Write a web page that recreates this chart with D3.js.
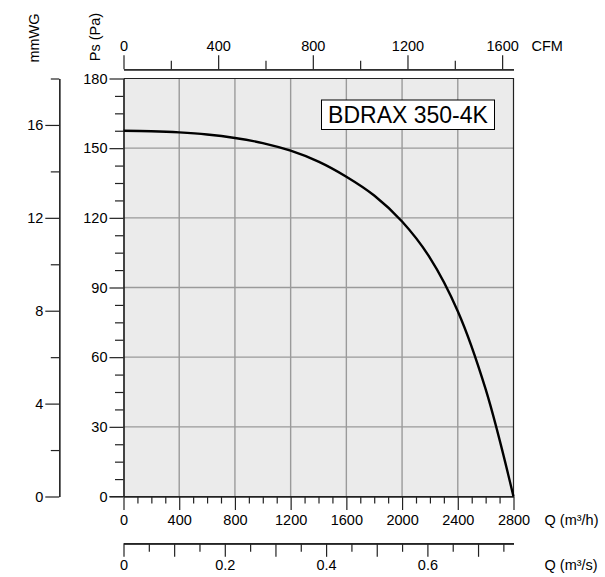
<!DOCTYPE html>
<html>
<head>
<meta charset="utf-8">
<script src="https://cdn.jsdelivr.net/npm/d3@7"></script>
<style>
  html, body { margin: 0; padding: 0; background: #fff; }
  svg { display: block; }
  text { font-family: "Liberation Sans", Arial, sans-serif; fill: #000; }
</style>
</head>
<body>
<svg id="chart" width="605" height="577"></svg>
<script>
// ---- data ----
const flowM3h = [0, 200, 400, 600, 800, 1000, 1200, 1400, 1600, 1800, 2000, 2200, 2400, 2600, 2800];
const pressurePa = [157.5, 157.3, 156.8, 155.9, 154.4, 152.2, 148.9, 144.2, 137.7, 129.6, 118.4, 102.8, 79.8, 46.2, 0];
const paMajorTicks = [0, 30, 60, 90, 120, 150, 180];
const mmwgMajorTicks = [0, 4, 8, 12, 16];
const mmwgMinorTicks = [2, 6, 10, 14, 18];
const m3hMajorTicks = [0, 400, 800, 1200, 1600, 2000, 2400, 2800];
const cfmMajorTicks = [0, 400, 800, 1200, 1600];
const cfmMinorTicks = [200, 600, 1000, 1400];
const m3sLabelTicks = [0, 0.2, 0.4, 0.6];
const m3sLongTicks = [0.1, 0.3, 0.5, 0.7];
const m3sShortTicks = [0.05, 0.15, 0.25, 0.35, 0.45, 0.55, 0.65, 0.75];
const modelName = "BDRAX 350-4K";

// ---- layout ----
const L = 123.5, R = 513.5, T = 78.5, B = 496.5;
const svg = d3.select("#chart");
const fs = "14.5px";
const intFmt = d3.format("d");

const x = d3.scaleLinear().domain([0, 2800]).range([L, R]);
const y = d3.scaleLinear().domain([0, 180]).range([B, T]);
const yMM = d3.scaleLinear().domain([0, 18]).range([B, T]);
const xCFM = d3.scaleLinear().domain([0, 2800 / 1.699]).range([L, R]);
const xM3s = d3.scaleLinear().domain([0, 0.77]).range([L, R]);

// plot background
svg.append("rect").attr("x", L).attr("y", T).attr("width", R - L).attr("height", B - T)
  .attr("fill", "#ebebeb");

// gridlines
const grid = svg.append("g").attr("stroke", "#9a9a9a").attr("stroke-width", 1.4);
grid.selectAll(".vg").data(m3hMajorTicks.filter(d => d > 0 && d < 2800)).enter().append("line")
  .attr("x1", d => x(d)).attr("x2", d => x(d)).attr("y1", T).attr("y2", B);
grid.selectAll(".hg").data(paMajorTicks.filter(d => d > 0 && d < 180)).enter().append("line")
  .attr("x1", L).attr("x2", R).attr("y1", d => y(d)).attr("y2", d => y(d));

// frame top + right
svg.append("path").attr("d", `M${L},${T}H${R}V${B}`).attr("fill", "none")
  .attr("stroke", "#222").attr("stroke-width", 1.2);

function styleAxis(g) {
  g.selectAll("path, line").attr("stroke", "#222").attr("stroke-width", 1.2);
  g.selectAll("text").style("font-size", fs).attr("fill", "#000");
}

// Pa axis
const paMinor = d3.range(0, 181, 7.5).filter(d => d % 30 !== 0);
svg.append("g").attr("transform", `translate(${L},0)`)
  .call(d3.axisLeft(y).tickValues(paMinor).tickSize(8.5).tickSizeOuter(0).tickFormat(""))
  .call(styleAxis);
svg.append("g").attr("transform", `translate(${L},0)`)
  .call(d3.axisLeft(y).tickValues(paMajorTicks).tickSize(14).tickSizeOuter(0).tickPadding(2).tickFormat(intFmt))
  .call(styleAxis);

// mmWG axis
const mmX = 59.3;
svg.append("g").attr("transform", `translate(${mmX},0)`)
  .call(d3.axisLeft(yMM).tickValues(mmwgMinorTicks).tickSize(8.5).tickSizeOuter(0).tickFormat(""))
  .call(styleAxis);
svg.append("g").attr("transform", `translate(${mmX},0)`)
  .call(d3.axisLeft(yMM).tickValues(mmwgMajorTicks).tickSize(14).tickSizeOuter(0).tickPadding(2).tickFormat(intFmt))
  .call(styleAxis);

// Q m3/h axis (bottom)
const m3hMinor = d3.range(0, 2801, 100).filter(d => d % 400 !== 0);
svg.append("g").attr("transform", `translate(0,${B})`)
  .call(d3.axisBottom(x).tickValues(m3hMinor).tickSize(7).tickSizeOuter(0).tickFormat(""))
  .call(styleAxis);
svg.append("g").attr("transform", `translate(0,${B})`)
  .call(d3.axisBottom(x).tickValues(m3hMajorTicks).tickSize(13.5).tickSizeOuter(0).tickPadding(4.5).tickFormat(intFmt))
  .call(styleAxis);
// extend bottom line left to the Pa 0 tick
svg.append("line").attr("x1", L - 14).attr("x2", R).attr("y1", B).attr("y2", B)
  .attr("stroke", "#222").attr("stroke-width", 1.2);

// CFM axis (top)
const cfmY = 69.3;
svg.append("g").attr("transform", `translate(0,${cfmY})`)
  .call(d3.axisTop(xCFM).tickValues(cfmMinorTicks).tickSize(8.5).tickSizeOuter(0).tickFormat(""))
  .call(styleAxis);
svg.append("g").attr("transform", `translate(0,${cfmY})`)
  .call(d3.axisTop(xCFM).tickValues(cfmMajorTicks).tickSize(14).tickSizeOuter(0).tickPadding(4).tickFormat(intFmt))
  .call(styleAxis);

// m3/s axis
const m3sY = 543.3;
svg.append("g").attr("transform", `translate(0,${m3sY})`)
  .call(d3.axisBottom(xM3s).tickValues(m3sShortTicks).tickSize(8.5).tickSizeOuter(0).tickFormat(""))
  .call(styleAxis);
svg.append("g").attr("transform", `translate(0,${m3sY})`)
  .call(d3.axisBottom(xM3s).tickValues(m3sLongTicks).tickSize(13.5).tickSizeOuter(0).tickFormat(""))
  .call(styleAxis);
svg.append("g").attr("transform", `translate(0,${m3sY})`)
  .call(d3.axisBottom(xM3s).tickValues(m3sLabelTicks).tickSize(13.5).tickSizeOuter(0).tickPadding(3).tickFormat(d => String(d)))
  .call(styleAxis);

// curve
const pts = flowM3h.map((q, i) => [q, pressurePa[i]]);
svg.append("path").datum(pts)
  .attr("fill", "none").attr("stroke", "#000").attr("stroke-width", 2.4)
  .attr("d", d3.line().x(d => x(d[0])).y(d => y(d[1])).curve(d3.curveCatmullRom.alpha(0.5)));

// title box
svg.append("rect").attr("x", 321.5).attr("y", 100).attr("width", 173).attr("height", 29.5)
  .attr("fill", "#fff").attr("stroke", "#000").attr("stroke-width", 1);
svg.append("text").attr("x", 408).attr("y", 122.5).attr("text-anchor", "middle")
  .style("font-size", "23px").text(modelName);

// axis titles
svg.append("text").attr("x", 531.5).attr("y", 51).style("font-size", fs).text("CFM");
svg.append("text").attr("x", 544.5).attr("y", 525).style("font-size", fs).text("Q (m³/h)");
svg.append("text").attr("x", 544.5).attr("y", 569.5).style("font-size", fs).text("Q (m³/s)");
svg.append("text").attr("transform", "translate(38.5,38) rotate(-90)").attr("text-anchor", "middle")
  .style("font-size", fs).text("mmWG");
svg.append("text").attr("transform", "translate(100,37) rotate(-90)").attr("text-anchor", "middle")
  .style("font-size", fs).text("Ps (Pa)");
</script>
</body>
</html>
